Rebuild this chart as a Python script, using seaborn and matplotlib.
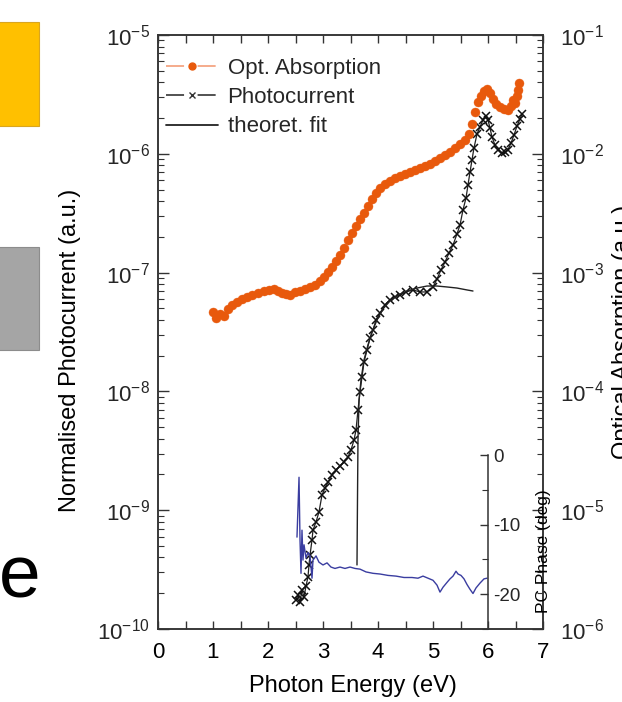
import matplotlib
matplotlib.use('Agg')
import matplotlib.pyplot as plt
import seaborn as sns
import pandas as pd
from matplotlib.lines import Line2D
from matplotlib.patches import Rectangle
from matplotlib.ticker import FixedLocator, FixedFormatter, NullFormatter

# ---------------- data ----------------
abs_energy = [1.00, 1.05, 1.13, 1.20, 1.27, 1.35, 1.44, 1.53, 1.62, 1.71, 1.82, 1.93,
              2.02, 2.11, 2.18, 2.25, 2.33, 2.40, 2.49, 2.58, 2.67, 2.76, 2.85, 2.95,
              3.02, 3.09, 3.16, 3.24, 3.31, 3.38, 3.45, 3.53, 3.60, 3.67, 3.75, 3.82,
              3.89, 3.96, 4.04, 4.13, 4.22, 4.31, 4.40, 4.49, 4.58, 4.67, 4.76, 4.85,
              4.95, 5.04, 5.13, 5.22, 5.31, 5.40, 5.49, 5.58, 5.65, 5.71, 5.76, 5.82,
              5.87, 5.93, 5.98, 6.04, 6.09, 6.15, 6.22, 6.29, 6.36, 6.42, 6.45, 6.49,
              6.53, 6.55, 6.56]
abs_value = [4.66e-4, 4.15e-4, 4.49e-4, 4.32e-4, 4.94e-4, 5.33e-4, 5.66e-4, 6.00e-4,
             6.24e-4, 6.48e-4, 6.73e-4, 7.00e-4, 7.14e-4, 7.28e-4, 7.00e-4, 6.73e-4,
             6.60e-4, 6.48e-4, 6.87e-4, 7.00e-4, 7.28e-4, 7.57e-4, 7.87e-4, 8.50e-4,
             9.18e-4, 1.01e-3, 1.11e-3, 1.25e-3, 1.41e-3, 1.61e-3, 1.88e-3, 2.15e-3,
             2.47e-3, 2.82e-3, 3.18e-3, 3.64e-3, 4.17e-3, 4.68e-3, 5.15e-3, 5.57e-3,
             5.90e-3, 6.25e-3, 6.50e-3, 6.76e-3, 7.03e-3, 7.31e-3, 7.60e-3, 7.89e-3,
             8.20e-3, 8.70e-3, 9.22e-3, 9.77e-3, 1.035e-2, 1.12e-2, 1.21e-2, 1.31e-2,
             1.47e-2, 1.78e-2, 2.25e-2, 2.73e-2, 3.07e-2, 3.38e-2, 3.51e-2, 3.25e-2,
             2.89e-2, 2.62e-2, 2.48e-2, 2.38e-2, 2.34e-2, 2.52e-2, 2.84e-2, 2.68e-2,
             3.07e-2, 3.44e-2, 3.94e-2]

pc_energy = [2.509, 2.545, 2.582, 2.618, 2.655, 2.691, 2.727, 2.745, 2.764, 2.800,
             2.818, 2.873, 2.927, 2.982, 3.036, 3.091, 3.164, 3.236, 3.309, 3.382,
             3.455, 3.509, 3.564, 3.600, 3.636, 3.673, 3.709, 3.745, 3.800, 3.855,
             3.909, 3.964, 4.036, 4.127, 4.218, 4.309, 4.400, 4.509, 4.636, 4.764,
             4.891, 5.000, 5.073, 5.145, 5.218, 5.291, 5.364, 5.436, 5.491, 5.545,
             5.600, 5.636, 5.673, 5.709, 5.745, 5.800, 5.855, 5.909, 5.964, 6.000,
             6.036, 6.073, 6.127, 6.182, 6.255, 6.309, 6.364, 6.418, 6.473, 6.527,
             6.582, 6.618]
pc_log = [-9.756, -9.714, -9.773, -9.672, -9.731, -9.638, -9.562, -9.461, -9.377, -9.251,
          -9.167, -9.099, -9.015, -8.872, -8.813, -8.763, -8.704, -8.662, -8.628, -8.594,
          -8.552, -8.493, -8.409, -8.325, -8.157, -8.005, -7.879, -7.753, -7.652, -7.551,
          -7.483, -7.399, -7.340, -7.273, -7.231, -7.205, -7.189, -7.163, -7.146, -7.163,
          -7.163, -7.121, -7.054, -6.978, -6.911, -6.835, -6.768, -6.675, -6.599, -6.473,
          -6.372, -6.263, -6.153, -6.052, -5.951, -5.833, -5.774, -5.715, -5.682, -5.715,
          -5.783, -5.859, -5.926, -5.968, -5.993, -5.985, -5.968, -5.909, -5.842, -5.766,
          -5.707, -5.665]
pc_value = [10 ** v for v in pc_log]

fit_energy = [3.618, 3.627, 3.636, 3.655, 3.691, 3.745, 3.818, 3.891, 3.982, 4.091,
              4.218, 4.364, 4.527, 4.709, 4.891, 5.073, 5.255, 5.436, 5.618, 5.727]
fit_log = [-9.461, -8.914, -8.409, -8.073, -7.904, -7.736, -7.609, -7.500, -7.399, -7.306,
           -7.239, -7.189, -7.155, -7.130, -7.113, -7.113, -7.121, -7.130, -7.146, -7.155]
fit_value = [10 ** v for v in fit_log]

phase_energy = [2.527, 2.564, 2.582, 2.600, 2.618, 2.636, 2.655, 2.691, 2.727, 2.764,
                2.800, 2.818, 2.873, 2.927, 3.000, 3.073, 3.145, 3.218, 3.309, 3.400,
                3.491, 3.582, 3.673, 3.782, 3.909, 4.036, 4.182, 4.327, 4.473, 4.618,
                4.727, 4.818, 4.909, 5.000, 5.073, 5.127, 5.182, 5.255, 5.309, 5.364,
                5.418, 5.455, 5.509, 5.564, 5.618, 5.673, 5.727, 5.782, 5.855, 5.927,
                5.982]
phase_deg = [-11.8, -3.2, -12.2, -17.0, -10.8, -15.1, -12.9, -14.8, -14.0, -14.5,
             -17.7, -15.1, -14.5, -15.4, -15.8, -15.5, -16.1, -16.3, -16.1, -16.3,
             -16.1, -16.3, -16.4, -16.8, -17.0, -17.1, -17.3, -17.4, -17.6, -17.6,
             -17.7, -17.4, -17.7, -18.0, -18.7, -19.7, -19.0, -18.3, -17.8, -17.4,
             -16.7, -17.1, -17.3, -17.8, -18.6, -19.3, -19.9, -19.1, -18.4, -17.8,
             -17.7]

x_major = [0, 1, 2, 3, 4, 5, 6, 7]
x_minor = [0.5, 1.5, 2.5, 3.5, 4.5, 5.5, 6.5]
left_ticks = [1e-10, 1e-9, 1e-8, 1e-7, 1e-6, 1e-5]
left_labels = [r'$10^{-10}$', r'$10^{-9}$', r'$10^{-8}$', r'$10^{-7}$', r'$10^{-6}$', r'$10^{-5}$']
right_ticks = [1e-6, 1e-5, 1e-4, 1e-3, 1e-2, 1e-1]
right_labels = [r'$10^{-6}$', r'$10^{-5}$', r'$10^{-4}$', r'$10^{-3}$', r'$10^{-2}$', r'$10^{-1}$']
phase_ticks = [-20, -10, 0]
phase_labels = ['-20', '-10', '0']
phase_minor = [-25, -15, -5]
legend_labels = ['Opt. Absorption', 'Photocurrent', 'theoret. fit']

abs_df = pd.DataFrame({'E': abs_energy, 'A': abs_value})
pc_df = pd.DataFrame({'E': pc_energy, 'I': pc_value})
fit_df = pd.DataFrame({'E': fit_energy, 'I': fit_value})
ph_df = pd.DataFrame({'E': phase_energy, 'P': phase_deg})

# ---------------- style ----------------
sns.set_theme(style='ticks')
plt.rcParams['font.family'] = ['Liberation Sans', 'DejaVu Sans']
plt.rcParams['mathtext.default'] = 'regular'
plt.rcParams['axes.edgecolor'] = '#333333'
plt.rcParams['axes.linewidth'] = 1.1

W, H = 622, 702
fig = plt.figure(figsize=(W / 100, H / 100), dpi=100)
fig.patch.set_facecolor('white')


def fx(px):
    return px / W


def fy(py):
    return 1 - py / H


# slide decorations on the left
fig.patches.append(Rectangle((fx(-2), fy(126)), fx(41), 104 / H, transform=fig.transFigure,
                             facecolor='#FFC000', edgecolor='#D9A520', lw=0.8))
fig.patches.append(Rectangle((fx(-2), fy(350)), fx(41), 103 / H, transform=fig.transFigure,
                             facecolor='#A5A5A5', edgecolor='#8C8C8C', lw=0.8))
fig.text(fx(40), fy(597), 'e', fontsize=54, ha='right', va='baseline', color='black')

ax = fig.add_axes([fx(158), fy(629), fx(543) - fx(158), fy(35) - fy(629)])
ax.set_yscale('log')
ax.set_xlim(0, 7)
ax.set_ylim(1e-10, 1e-5)

ax2 = ax.twinx()
ax2.set_yscale('log')
ax2.set_ylim(1e-6, 1e-1)

sns.lineplot(data=pc_df, x='E', y='I', ax=ax, color='#222222', lw=0.9, marker='x',
             markersize=6, markeredgewidth=1.1, markeredgecolor='#111111',
             estimator=None, sort=False, legend=False)
sns.lineplot(data=fit_df, x='E', y='I', ax=ax, color='#222222', lw=1.0,
             estimator=None, sort=False, legend=False)
sns.scatterplot(data=abs_df, x='E', y='A', ax=ax2, color='#E8590C', s=42,
                edgecolor='#E8590C', linewidth=0.3, legend=False)

# axis styling
ax.xaxis.set_major_locator(FixedLocator(x_major))
ax.xaxis.set_minor_locator(FixedLocator(x_minor))
ax.yaxis.set_major_locator(FixedLocator(left_ticks))
ax.yaxis.set_major_formatter(FixedFormatter(left_labels))
ax.yaxis.set_minor_formatter(NullFormatter())
ax2.yaxis.set_major_locator(FixedLocator(right_ticks))
ax2.yaxis.set_major_formatter(FixedFormatter(right_labels))
ax2.yaxis.set_minor_formatter(NullFormatter())

ax.tick_params(axis='x', which='both', direction='in', top=True, bottom=True,
               length=6, width=1, color='#333333', labelsize=16, pad=9, labelcolor='black')
ax.tick_params(axis='y', which='major', direction='in', length=8, width=1,
               color='#333333', labelsize=16, pad=6, right=False)
ax.tick_params(axis='y', which='minor', direction='in', length=4, width=0.8,
               color='#333333', right=False)
ax2.tick_params(axis='y', which='major', direction='in', length=8, width=1,
                color='#333333', labelsize=16, pad=12)
ax2.tick_params(axis='y', which='minor', direction='in', length=4, width=0.8,
                color='#333333')

ax.set_xlabel('Photon Energy (eV)', fontsize=17, color='black')
ax.xaxis.set_label_coords((353 - 158) / 385, -(675 - 629) / 594)
ax.set_ylabel('Normalised Photocurrent (a.u.)', fontsize=17, color='black')
ax.yaxis.set_label_coords((81 - 158) / 385, (629 - 350) / 594)
ax2.set_ylabel('Optical Absorption (a.u.)', fontsize=17, color='black', rotation=90)
ax2.yaxis.set_label_coords((612 - 158) / 385, 0.5)

for a in (ax, ax2):
    for s in a.spines.values():
        s.set_color('#333333')
        s.set_linewidth(1.1)

# legend
handles = [
    Line2D([], [], color='#F4A582', lw=1.3, dashes=(10, 7.5), marker='o',
           markerfacecolor='#E8590C', markeredgecolor='#E8590C', markersize=5),
    Line2D([], [], color='#444444', lw=1.3, dashes=(10, 7.5), marker='x',
           markeredgecolor='#333333', markersize=5, markeredgewidth=1),
    Line2D([], [], color='#222222', lw=1.3),
]
ax2.legend(handles, legend_labels, loc='upper left', bbox_to_anchor=(0.022, 0.962),
           frameon=False, fontsize=16, handlelength=2.3, handletextpad=0.45,
           labelspacing=0.38, borderaxespad=0, borderpad=0)

# inset phase axis
ax3 = fig.add_axes([fx(158), fy(629), fx(488) - fx(158), fy(455) - fy(629)])
ax3.set_facecolor('none')
ax3.set_xlim(0, 6)
ax3.set_ylim(-25, 0)
sns.lineplot(data=ph_df, x='E', y='P', ax=ax3, color='#3A3DA0', lw=1.0,
             estimator=None, sort=False, legend=False)
for side in ('left', 'top', 'bottom'):
    ax3.spines[side].set_visible(False)
ax3.spines['right'].set_color('#333333')
ax3.spines['right'].set_linewidth(1.1)
ax3.set_xticks([])
ax3.yaxis.tick_right()
ax3.yaxis.set_major_locator(FixedLocator(phase_ticks))
ax3.yaxis.set_major_formatter(FixedFormatter(phase_labels))
ax3.yaxis.set_minor_locator(FixedLocator(phase_minor))
ax3.tick_params(axis='y', which='major', direction='in', length=6, width=1,
                color='#333333', labelsize=13.5, pad=4, left=False, right=True)
ax3.tick_params(axis='y', which='minor', direction='in', length=4, width=0.8,
                color='#333333', left=False, right=True)
ax3.set_xlabel('')
ax3.set_ylabel('PC Phase (deg)', fontsize=12.5, color='black', rotation=90)
ax3.yaxis.set_label_position('right')
ax3.yaxis.set_label_coords((536 - 158) / 330, (629 - 551) / 174)

fig.savefig('out.png', dpi=100)
